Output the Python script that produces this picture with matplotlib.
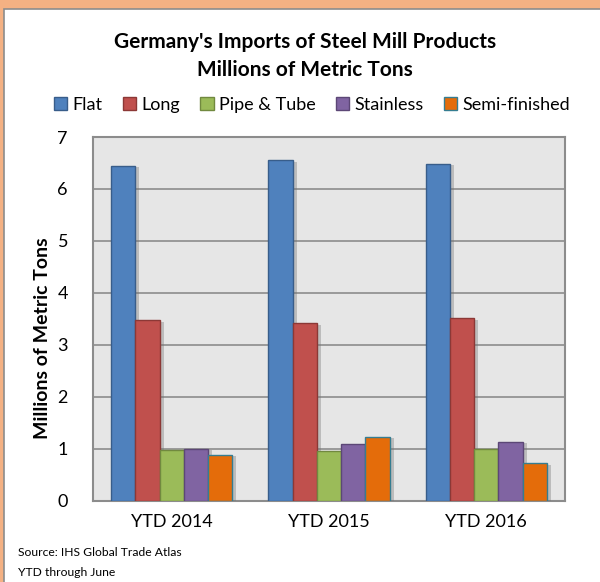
import matplotlib
matplotlib.use("Agg")
import matplotlib.pyplot as plt
import matplotlib.patheffects as pe
from matplotlib.patches import Rectangle
import numpy as np

plt.rcParams['font.family'] = ['Lato', 'DejaVu Sans']

categories = ["YTD 2014", "YTD 2015", "YTD 2016"]
series_names = ["Flat", "Long", "Pipe & Tube", "Stainless", "Semi-finished"]
flat = [6.44, 6.55, 6.48]
long_ = [3.47, 3.41, 3.51]
pipe_tube = [0.98, 0.95, 0.99]
stainless = [0.99, 1.09, 1.13]
semi_finished = [0.88, 1.23, 0.72]
yticks = [0, 1, 2, 3, 4, 5, 6, 7]

series_values = [flat, long_, pipe_tube, stainless, semi_finished]
face_colors = ["#4F81BD", "#C0504D", "#9BBB59", "#8064A2", "#E46C0A"]
edge_colors = ["#385D8A", "#8C3836", "#71893F", "#5C4776", "#357D91"]

W, H = 600, 582
fig = plt.figure(figsize=(W / 100, H / 100), dpi=100)
fig.patch.set_facecolor("#F4B183")

# white chart panel with thin grey frame
panel = Rectangle((4 / W, -0.1), 1.2, 1.1 - 9 / H, transform=fig.transFigure,
                  facecolor="white", edgecolor="#8C8C8C", linewidth=1.2, zorder=-10)
fig.patches.append(panel)

ax = fig.add_axes([93 / W, 1 - 500.5 / H, (565 - 93) / W, (500.5 - 137) / H])
ax.set_facecolor("#E6E6E6")

x = np.arange(len(categories))
bw = 0.154
offsets = (np.arange(len(series_names)) - 2) * bw
shadow = [pe.SimplePatchShadow(offset=(3, -1), shadow_rgbFace="#707070", alpha=0.35), pe.Normal()]
for vals, name, fc, ec, off in zip(series_values, series_names, face_colors, edge_colors, offsets):
    bars = ax.bar(x + off, vals, width=bw, color=fc, edgecolor=ec, linewidth=1.0,
                  label=name, zorder=3)
    for b in bars:
        b.set_path_effects(shadow)

ax.set_xlim(-0.5, len(categories) - 0.5)
ax.set_ylim(0, 7)
ax.set_yticks(yticks)
ax.set_yticklabels([str(t) for t in yticks], fontsize=13)
ax.set_xticks(x)
ax.set_xticklabels(categories, fontsize=13)
ax.tick_params(axis="both", length=0, pad=10)
ax.tick_params(axis="y", pad=18)
ax.yaxis.grid(True, color="#8C8C8C", linewidth=1.2, zorder=1)
ax.set_axisbelow(True)
for s in ax.spines.values():
    s.set_color("#8C8C8C")
    s.set_linewidth(1.5)

fig.text(42 / W, 1 - 338 / H, "Millions of Metric Tons", rotation=90, fontsize=14,
         fontweight="bold", ha="center", va="center")

fig.text(305 / W, 1 - 42 / H, "Germany's Imports of Steel Mill Products", fontsize=15,
         fontweight="bold", ha="center", va="center")
fig.text(305 / W, 1 - 70 / H, "Millions of Metric Tons", fontsize=15,
         fontweight="bold", ha="center", va="center")

leg = fig.legend(loc="center", bbox_to_anchor=(312 / W, 1 - 105 / H), ncol=5, frameon=False,
                 fontsize=13, handlelength=0.75, handleheight=0.75, handletextpad=0.3,
                 columnspacing=1.1)
for h in leg.legend_handles:
    h.set_path_effects([])

fig.text(18 / W, 1 - 553 / H, "Source: IHS Global Trade Atlas", fontsize=8.7, ha="left", va="center")
fig.text(18 / W, 1 - 572 / H, "YTD through June", fontsize=8.7, ha="left", va="center")

fig.savefig("out.png", dpi=100, facecolor=fig.get_facecolor())
